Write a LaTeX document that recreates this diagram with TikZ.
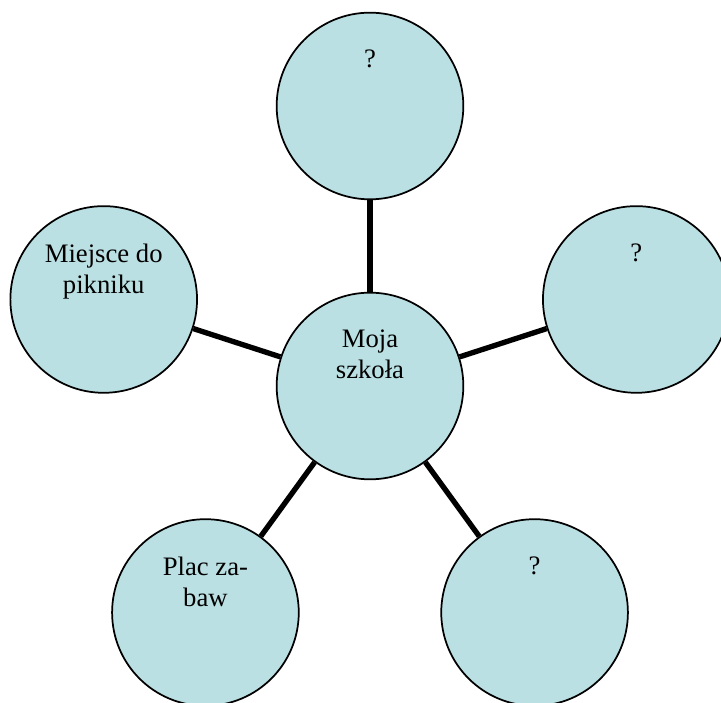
\documentclass[tikz,border=0pt]{standalone}
\usepackage{fontspec}
\setmainfont{Liberation Serif}
\definecolor{bubblefill}{RGB}{187,224,227}
\tikzset{
  bubble/.style={circle, draw=black, fill=bubblefill, line width=1.3pt, minimum size=140pt, inner sep=0pt},
  link/.style={line width=4pt},
  txt/.style={anchor=north, align=center, inner sep=0pt, font=\fontsize{20}{23.2}\selectfont}
}
\begin{document}
\begin{tikzpicture}[x=0.75pt, y=0.75pt]
  \def\r{280} % odleglosc do kol zewnetrznych
  \def\up{42pt} % tekst w gornej czesci kola
  \useasboundingbox (0,0) rectangle (721,703);
  \begin{scope}[shift={(370,317)}]
    \node[bubble] (hub) at (0,0) {};
    \node[bubble] (top) at (90:\r) {};
    \node[bubble] (right) at (18:\r) {};
    \node[bubble] (botright) at (-54:\r) {};
    \node[bubble] (botleft) at (-126:\r) {};
    \node[bubble] (left) at (162:\r) {};
  \end{scope}
  \draw[link] (hub) -- (top);
  \draw[link] (hub) -- (right);
  \draw[link] (hub) -- (botright);
  \draw[link] (hub) -- (botleft);
  \draw[link] (hub) -- (left);
  \node[txt] (hubtxt) at ([yshift=\up]hub.center) {Moja\\szkoła};
  \node[txt] (toptxt) at ([yshift=\up]top.center) {?};
  \node[txt] (righttxt) at ([yshift=\up]right.center) {?};
  \node[txt] (botrighttxt) at ([yshift=\up]botright.center) {?};
  \node[txt] (botlefttxt) at ([yshift=\up]botleft.center) {Plac za-\\baw};
  \node[txt] (lefttxt) at ([yshift=\up]left.center) {Miejsce do\\pikniku};
\end{tikzpicture}
\end{document}
